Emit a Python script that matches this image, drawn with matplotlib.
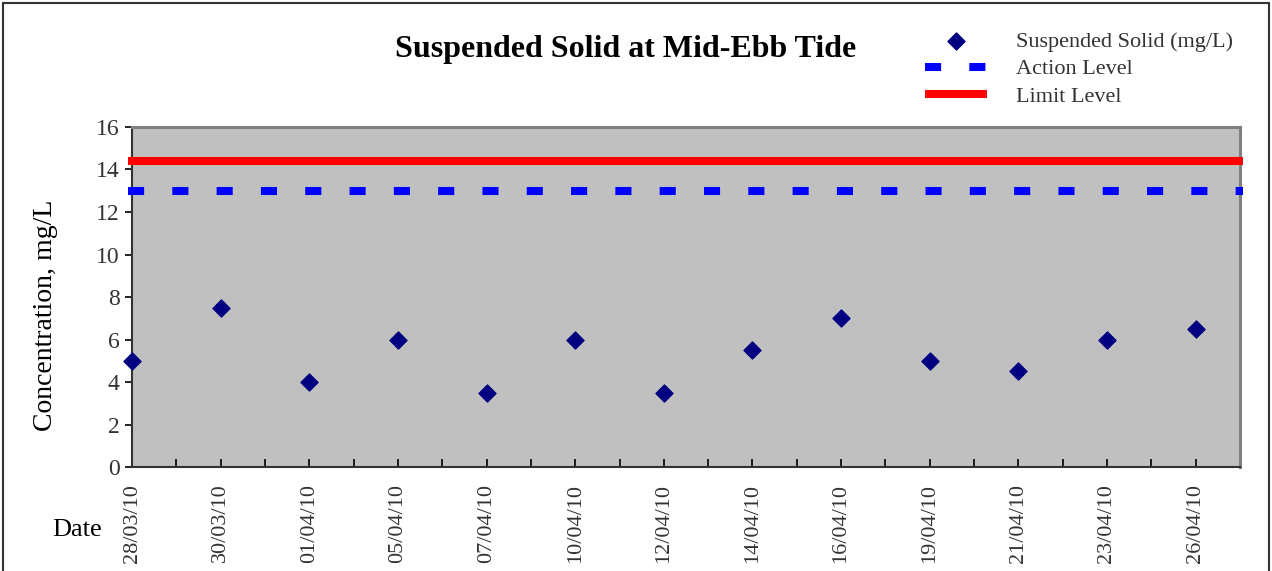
import numpy as np
import matplotlib
matplotlib.use("Agg")
import matplotlib.pyplot as plt
from matplotlib.patches import Rectangle

# data
dates = ["28/03/10", "30/03/10", "01/04/10", "05/04/10", "07/04/10", "10/04/10", "12/04/10",
         "14/04/10", "16/04/10", "19/04/10", "21/04/10", "23/04/10", "26/04/10"]
ss_values = [5, 7.5, 4, 6, 3.5, 6, 3.5, 5.5, 7, 5, 4.5, 6, 6.5]
action_level = 13.0
limit_level = 14.4

plt.rcParams["font.family"] = ["Liberation Serif", "DejaVu Serif"]

fig = plt.figure(figsize=(12.72, 5.71), dpi=100)
ax = fig.add_axes([0.1038, 0.1821, 0.871, 0.5955])
ax.set_facecolor("#c0c0c0")

x = np.arange(len(dates))
xmax = len(dates) - 0.5

# limit / action lines run slightly past the plot frame
ax.plot([-0.05, xmax + 0.03], [limit_level] * 2, color="red", lw=5.8,
        solid_capstyle="butt", clip_on=False, label="Limit Level", zorder=3)
ax.plot([-0.05, xmax + 0.03], [action_level] * 2, color="blue", lw=5.8,
        dashes=(2.0, 3.5), dash_capstyle="butt", clip_on=False,
        label="Action Level", zorder=3)
ax.scatter(x, ss_values, marker="D", s=75, color="#000080", clip_on=False,
           zorder=4, label="Suspended Solid (mg/L)")

ax.set_xlim(0, xmax)
ax.set_ylim(0, 16)
ax.set_yticks(range(0, 17, 2))
ax.set_xticks(x)
ax.set_xticks(np.arange(0.5, xmax + 0.01, 1.0), minor=True)
ax.set_xticklabels(dates, rotation=90, fontsize=16)
ax.tick_params(axis="x", which="both", direction="in", length=6, width=1.2, pad=12)
ax.tick_params(axis="y", direction="out", length=5, width=1.2, labelsize=17, pad=4)
for lab in ax.get_yticklabels() + ax.get_xticklabels():
    lab.set_color("#333333")

for s in ["top", "right"]:
    ax.spines[s].set_color("#808080")
    ax.spines[s].set_linewidth(2.2)
for s in ["bottom", "left"]:
    ax.spines[s].set_color("#333333")
    ax.spines[s].set_linewidth(1.5)

ax.set_ylabel("Concentration, mg/L", fontsize=20)
ax.yaxis.set_label_coords(-0.067, 0.447)
fig.text(0.0605, 0.072, "Date", fontsize=19, ha="center", va="center")
fig.text(0.4915, 0.914, "Suspended Solid at Mid-Ebb Tide", fontsize=23,
         fontweight="bold", ha="center", va="center")

h, l = ax.get_legend_handles_labels()
order = [2, 1, 0]
leg = fig.legend([h[i] for i in order], [l[i] for i in order],
                 loc="upper left", bbox_to_anchor=(0.727, 0.9445),
                 frameon=False, fontsize=16, handlelength=2.8,
                 handletextpad=1.3, labelspacing=0.3, borderpad=0.0,
                 borderaxespad=0.0)
for t in leg.get_texts():
    t.set_color("#333333")

# outer frame of the figure
fig.patches.append(Rectangle((0.002, -0.01), 0.996, 1.005, transform=fig.transFigure,
                             fill=False, edgecolor="#333333", lw=1.5))

fig.savefig("out.png", dpi=100)
